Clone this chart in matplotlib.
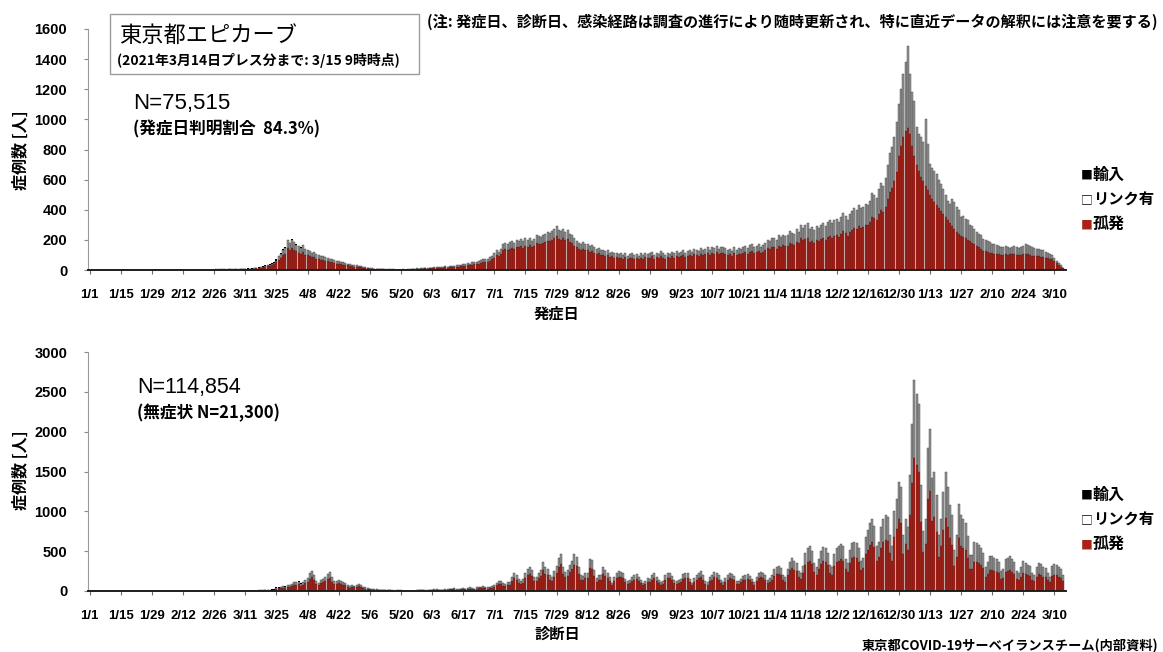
import numpy as np
import matplotlib
matplotlib.use("Agg")
import matplotlib.pyplot as plt
from matplotlib import font_manager as fm
from matplotlib.patches import Rectangle

# =========================================================
# FONTS
# =========================================================

JP = ["Noto Sans CJK JP", "DejaVu Sans"]
LAT = "Liberation Sans"
try:
    fm.findfont(fm.FontProperties(family="Liberation Sans Narrow"), fallback_to_default=False)
    NARROW = "Liberation Sans Narrow"
except Exception:
    NARROW = "Liberation Sans"

# =========================================================
# DATA  (daily, 2020/1/1 .. 2021/3/14, 14 days per line)
# =========================================================

tick_labels = ["1/1", "1/15", "1/29", "2/12", "2/26", "3/11", "3/25", "4/8",
               "4/22", "5/6", "5/20", "6/3", "6/17", "7/1", "7/15", "7/29",
               "8/12", "8/26", "9/9", "9/23", "10/7", "10/21", "11/4", "11/18",
               "12/2", "12/16", "12/30", "1/13", "1/27", "2/10", "2/24", "3/10"]

# onset date: total bar height
onset_total = [
    0, 0, 0, 0, 0, 0, 0, 0, 0, 0, 0, 0, 0, 0,
    0, 0, 0, 0, 0, 0, 0, 0, 0, 1, 1, 0, 1, 1,
    0, 1, 0, 1, 1, 0, 1, 0, 1, 1, 0, 1, 1, 1,
    2, 1, 3, 3, 3, 2, 3, 3, 2, 2, 2, 3, 2, 2,
    3, 4, 4, 4, 4, 5, 4, 5, 5, 5, 5, 5, 6, 8,
    8, 10, 9, 12, 14, 15, 18, 20, 25, 30, 35, 38, 45, 55,
    70, 95, 110, 140, 150, 200, 180, 205, 185, 170, 160, 150, 165, 140,
    135, 125, 115, 120, 105, 100, 95, 90, 85, 80, 75, 70, 65, 60,
    58, 55, 50, 45, 42, 40, 35, 33, 30, 28, 24, 20, 18, 15,
    12, 10, 9, 8, 7, 6, 6, 5, 5, 4, 4, 4, 3, 3,
    3, 4, 3, 5, 4, 6, 8, 10, 9, 12, 10, 14, 13, 16,
    15, 18, 20, 17, 22, 20, 24, 22, 25, 28, 26, 30, 32, 35,
    38, 40, 45, 42, 50, 55, 52, 58, 65, 70, 75, 72, 85, 95,
    110, 130, 120, 140, 175, 180, 170, 185, 190, 180, 200, 195, 205, 190,
    210, 200, 215, 195, 205, 230, 225, 220, 235, 240, 250, 245, 260, 275,
    290, 265, 260, 270, 255, 265, 240, 230, 210, 195, 180, 175, 185, 170,
    175, 160, 165, 150, 140, 145, 130, 135, 125, 130, 115, 120, 110, 115,
    105, 110, 100, 115, 95, 105, 110, 100, 105, 95, 110, 100, 115, 105,
    110, 120, 100, 115, 105, 125, 110, 100, 115, 105, 120, 110, 125, 115,
    120, 135, 115, 125, 130, 120, 140, 135, 125, 145, 130, 140, 150, 135,
    150, 145, 160, 140, 155, 150, 145, 130, 140, 125, 150, 135, 145, 140,
    150, 160, 145, 165, 170, 155, 160, 175, 150, 165, 180, 200, 190, 210,
    215, 200, 230, 220, 235, 225, 230, 260, 245, 240, 270, 255, 300, 280,
    300, 315, 275, 285, 265, 290, 280, 300, 310, 290, 320, 330, 310, 330,
    340, 320, 350, 380, 360, 330, 370, 390, 410, 400, 430, 410, 420, 440,
    430, 460, 510, 500, 480, 540, 580, 560, 610, 700, 780, 815, 880, 980,
    1100, 1200, 1300, 1380, 1490, 1300, 1180, 1120, 950, 900, 880, 850, 1004, 838,
    704, 680, 660, 638, 600, 571, 540, 500, 460, 438, 471, 450, 420, 400,
    349, 360, 340, 330, 300, 290, 271, 255, 240, 230, 204, 200, 190, 185,
    175, 171, 165, 160, 155, 150, 160, 150, 149, 155, 160, 150, 145, 150,
    160, 171, 165, 160, 150, 145, 138, 140, 135, 130, 120, 110, 104, 100,
    80, 60, 45, 30, 15,
]

# onset date: isolated cases (孤発)
onset_iso = [
    0, 0, 0, 0, 0, 0, 0, 0, 0, 0, 0, 0, 0, 0,
    0, 0, 0, 0, 0, 0, 0, 0, 0, 0, 1, 0, 0, 1,
    0, 1, 0, 0, 1, 0, 1, 0, 0, 1, 0, 1, 0, 1,
    1, 1, 2, 1, 2, 1, 1, 2, 1, 2, 1, 2, 2, 1,
    2, 2, 3, 2, 3, 3, 2, 4, 3, 3, 4, 3, 4, 5,
    5, 6, 6, 8, 9, 10, 12, 13, 17, 20, 24, 26, 31, 38,
    50, 68, 80, 102, 108, 145, 130, 148, 134, 123, 116, 108, 120, 102,
    98, 91, 84, 87, 76, 72, 69, 65, 61, 58, 54, 50, 47, 43,
    41, 39, 35, 32, 30, 28, 25, 23, 21, 20, 17, 14, 13, 11,
    8, 7, 6, 5, 5, 4, 4, 3, 3, 3, 3, 3, 2, 2,
    2, 3, 2, 3, 3, 4, 5, 7, 6, 8, 7, 10, 9, 11,
    10, 12, 14, 12, 15, 14, 17, 15, 17, 20, 18, 21, 22, 24,
    27, 28, 32, 30, 36, 40, 37, 42, 47, 51, 55, 52, 62, 70,
    82, 98, 90, 106, 134, 138, 130, 142, 146, 138, 154, 150, 158, 146,
    162, 154, 166, 150, 158, 178, 174, 170, 182, 186, 194, 190, 202, 214,
    226, 206, 202, 210, 198, 206, 186, 178, 162, 150, 138, 134, 142, 130,
    134, 122, 126, 114, 106, 110, 98, 102, 94, 98, 86, 90, 82, 86,
    78, 82, 74, 86, 70, 78, 82, 74, 78, 70, 82, 74, 86, 78,
    82, 90, 74, 86, 78, 94, 82, 74, 86, 78, 90, 82, 94, 86,
    90, 101, 86, 94, 97, 90, 105, 101, 94, 109, 97, 105, 112, 101,
    112, 109, 120, 105, 116, 112, 109, 97, 105, 94, 112, 101, 109, 105,
    110, 117, 106, 120, 124, 113, 117, 128, 110, 120, 131, 146, 139, 153,
    150, 140, 160, 154, 164, 157, 161, 182, 171, 168, 189, 178, 210, 196,
    205, 215, 188, 195, 181, 198, 191, 205, 212, 198, 218, 225, 212, 225,
    230, 217, 237, 257, 243, 223, 250, 264, 277, 270, 290, 277, 284, 297,
    300, 320, 355, 348, 335, 375, 400, 388, 420, 470, 520, 545, 590, 650,
    760, 820, 880, 920, 940, 900, 820, 760, 700, 660, 620, 590, 560, 530,
    500, 470, 450, 430, 410, 390, 370, 349, 330, 310, 290, 270, 255, 240,
    225, 216, 210, 200, 190, 180, 171, 160, 150, 140, 127, 125, 120, 116,
    110, 108, 106, 104, 102, 100, 104, 100, 104, 104, 106, 102, 100, 102,
    104, 106, 104, 100, 96, 94, 90, 90, 88, 86, 82, 78, 76, 72,
    58, 44, 34, 22, 11,
]

# onset date: imported cases (輸入), from 2020/3/1
onset_imp_start = 60
onset_imp = [0, 1, 0, 1, 1, 0, 1, 1, 2, 1, 1, 2, 2, 3, 2, 3, 4, 3, 5, 6,
             5, 7, 8, 6, 7, 5, 6, 4, 5, 3, 4, 3, 2, 2, 1, 1, 1, 0, 1, 0]

# diagnosis date: total bar height
diag_total = [
    0, 0, 0, 0, 0, 0, 0, 0, 0, 0, 0, 0, 0, 0,
    0, 0, 0, 0, 0, 0, 0, 0, 0, 1, 0, 0, 0, 0,
    0, 1, 0, 1, 0, 0, 0, 0, 0, 0, 0, 0, 0, 0,
    0, 1, 2, 3, 1, 2, 1, 2, 1, 2, 3, 1, 2, 3,
    2, 3, 1, 2, 0, 1, 3, 2, 4, 5, 3, 1, 2, 3,
    5, 6, 6, 8, 7, 6, 10, 12, 12, 16, 15, 12, 20, 25,
    45, 50, 55, 65, 60, 75, 80, 90, 110, 115, 120, 95, 110, 140,
    160, 220, 250, 200, 130, 105, 140, 155, 180, 215, 240, 170, 120, 130,
    140, 130, 110, 105, 80, 60, 70, 65, 75, 85, 70, 55, 45, 40,
    30, 25, 22, 20, 12, 12, 15, 14, 12, 10, 8, 6, 7, 8,
    8, 6, 5, 4, 3, 4, 6, 10, 12, 15, 12, 8, 10, 15,
    18, 20, 22, 18, 14, 15, 20, 25, 28, 30, 35, 25, 20, 30,
    35, 30, 40, 45, 35, 30, 45, 50, 55, 60, 55, 45, 50, 60,
    70, 100, 130, 120, 95, 90, 110, 115, 180, 230, 200, 150, 120, 150,
    220, 280, 300, 260, 170, 180, 230, 260, 370, 300, 280, 200, 180, 250,
    310, 420, 470, 300, 240, 260, 330, 380, 460, 430, 300, 200, 190, 220,
    230, 400, 390, 260, 160, 200, 200, 300, 260, 230, 180, 100, 170, 230,
    250, 240, 220, 150, 120, 140, 170, 200, 210, 180, 140, 100, 120, 160,
    150, 200, 220, 180, 140, 110, 130, 200, 220, 230, 190, 140, 130, 140,
    150, 210, 230, 220, 150, 100, 160, 200, 230, 250, 200, 130, 110, 170,
    200, 240, 230, 200, 140, 110, 160, 200, 220, 210, 190, 120, 120, 150,
    190, 200, 210, 190, 150, 110, 180, 230, 240, 220, 200, 140, 160, 200,
    270, 300, 310, 290, 200, 170, 280, 370, 420, 380, 350, 250, 220, 320,
    480, 540, 560, 500, 350, 300, 400, 500, 550, 540, 480, 330, 300, 470,
    540, 560, 590, 560, 400, 350, 510, 600, 620, 600, 540, 380, 420, 680,
    760, 850, 900, 820, 560, 620, 800, 900, 950, 930, 700, 560, 1000, 1150,
    1370, 1300, 700, 900, 800, 1450, 2090, 2650, 2470, 2350, 1330, 750, 900, 1795,
    2030, 1414, 1500, 1201, 700, 900, 1245, 1499, 1300, 1076, 950, 520, 700, 1097,
    948, 900, 850, 695, 450, 450, 610, 600, 580, 540, 483, 300, 360, 440,
    440, 420, 400, 370, 250, 280, 398, 420, 440, 400, 360, 250, 220, 300,
    380, 356, 330, 310, 220, 200, 300, 356, 340, 300, 290, 220, 180, 314,
    340, 330, 300, 280, 200,
]

# diagnosis date: isolated cases (孤発)
diag_iso = [
    0, 0, 0, 0, 0, 0, 0, 0, 0, 0, 0, 0, 0, 0,
    0, 0, 0, 0, 0, 0, 0, 0, 0, 0, 0, 0, 0, 0,
    0, 0, 0, 0, 0, 0, 0, 0, 0, 0, 0, 0, 0, 0,
    0, 1, 1, 2, 1, 1, 1, 1, 1, 1, 2, 1, 1, 2,
    1, 2, 1, 1, 0, 1, 2, 1, 2, 3, 2, 1, 1, 2,
    3, 4, 3, 4, 3, 3, 5, 6, 5, 7, 6, 5, 9, 11,
    28, 32, 35, 42, 40, 50, 54, 62, 76, 80, 84, 66, 77, 98,
    112, 154, 172, 140, 90, 72, 98, 108, 126, 150, 168, 118, 84, 90,
    96, 90, 76, 72, 55, 41, 48, 45, 52, 58, 48, 38, 31, 27,
    20, 17, 15, 13, 8, 8, 10, 9, 8, 7, 5, 4, 5, 5,
    5, 4, 3, 3, 2, 3, 4, 6, 8, 10, 8, 5, 6, 10,
    12, 13, 15, 12, 9, 10, 13, 17, 19, 20, 24, 17, 13, 20,
    24, 20, 27, 31, 24, 20, 31, 34, 38, 41, 38, 31, 34, 41,
    48, 70, 92, 85, 67, 63, 77, 81, 128, 164, 142, 106, 85, 106,
    158, 202, 216, 187, 122, 130, 166, 187, 266, 216, 202, 144, 130, 180,
    223, 302, 338, 216, 173, 187, 238, 274, 331, 310, 216, 144, 137, 158,
    166, 288, 281, 187, 115, 144, 144, 216, 187, 166, 130, 72, 122, 166,
    180, 173, 158, 108, 86, 101, 122, 144, 151, 130, 101, 72, 86, 115,
    108, 144, 158, 130, 101, 79, 94, 144, 158, 166, 137, 101, 94, 101,
    108, 151, 166, 158, 108, 72, 115, 144, 166, 180, 144, 94, 79, 122,
    144, 173, 166, 144, 101, 79, 115, 144, 158, 151, 137, 86, 86, 108,
    137, 144, 151, 137, 108, 79, 130, 166, 173, 158, 144, 101, 115, 144,
    189, 210, 217, 203, 140, 119, 196, 259, 294, 266, 245, 175, 154, 224,
    326, 367, 381, 340, 238, 204, 272, 340, 374, 367, 326, 224, 204, 320,
    367, 381, 401, 381, 272, 238, 347, 408, 422, 408, 367, 258, 286, 462,
    517, 578, 612, 558, 381, 422, 544, 612, 646, 632, 476, 381, 680, 782,
    900, 850, 460, 590, 520, 950, 1350, 1670, 1580, 1500, 860, 490, 590, 1150,
    1250, 880, 930, 740, 430, 560, 770, 920, 800, 660, 580, 320, 430, 670,
    570, 540, 510, 420, 270, 270, 366, 360, 348, 324, 290, 180, 216, 264,
    260, 250, 240, 220, 150, 168, 240, 250, 264, 240, 216, 150, 132, 180,
    228, 214, 198, 186, 132, 120, 180, 214, 204, 180, 174, 132, 108, 188,
    204, 198, 180, 168, 120,
]

# diagnosis date: imported cases (輸入), from 2020/3/1
diag_imp_start = 60
diag_imp = [0, 0, 1, 0, 1, 1, 0, 1, 1, 1, 2, 1, 2, 3, 2, 1, 3, 4, 5, 6,
            5, 4, 6, 8, 7, 9, 8, 6, 7, 5, 4, 5, 3, 3, 2, 1, 2, 1, 1, 0]

# =========================================================
# STYLE
# =========================================================

RED = "#a9221a"
RED_EDGE = "#5e1510"
GREY = "#959595"
GREY_EDGE = "#3c3c3c"

W, H = 1163, 652


def fx(x):
    return x / W


def fy(y):
    return 1 - y / H


def draw_epicurve(ax, total, iso, imp_start, imp, ymax, ystep):

    total = np.array(total, dtype=float)
    iso = np.array(iso, dtype=float)

    imp_full = np.zeros(len(total))
    imp_full[imp_start:imp_start + len(imp)] = imp

    link = np.clip(total - iso - imp_full, 0, None)

    x = np.arange(len(total))

    ax.bar(x, iso, width=0.9, color=RED, edgecolor=RED_EDGE, linewidth=0.3)
    ax.bar(x, link, bottom=iso, width=0.9, color=GREY,
           edgecolor=GREY_EDGE, linewidth=0.3)
    ax.bar(x, imp_full, bottom=iso + link, width=0.9, color="black",
           linewidth=0)

    ax.set_xlim(-0.8, len(total) + 0.2)
    ax.set_ylim(0, ymax)

    ax.set_xticks(np.arange(0, len(total), 14)[:len(tick_labels)])
    ax.set_xticklabels(tick_labels, fontfamily=NARROW, fontsize=9.5,
                       fontweight="bold")

    ax.set_yticks(np.arange(0, ymax + 1, ystep))
    ax.set_yticklabels([str(v) for v in range(0, ymax + 1, ystep)],
                       fontfamily=LAT, fontsize=10.5, fontweight="bold")

    for side in ["top", "right"]:
        ax.spines[side].set_visible(False)

    ax.spines["left"].set_color("#9a9a9a")
    ax.spines["left"].set_linewidth(0.8)
    ax.spines["bottom"].set_color("#1e1e1e")
    ax.spines["bottom"].set_linewidth(1.4)

    ax.tick_params(axis="y", length=3, width=0.8, color="#8a8a8a", pad=12)
    ax.tick_params(axis="x", length=3, width=0.8, color="#6a6a6a", pad=11)


# =========================================================
# FIGURE
# =========================================================

fig = plt.figure(figsize=(W / 100, H / 100), dpi=100)

ax1 = fig.add_axes([fx(88), fy(270), fx(1066) - fx(88), (270 - 29) / H])
ax2 = fig.add_axes([fx(88), fy(591), fx(1066) - fx(88), (591 - 352) / H])

draw_epicurve(ax1, onset_total, onset_iso, onset_imp_start, onset_imp, 1600, 200)
draw_epicurve(ax2, diag_total, diag_iso, diag_imp_start, diag_imp, 3000, 500)

# title box
fig.patches.append(
    Rectangle((fx(110), fy(74)), fx(419) - fx(110), (74 - 14) / H,
              transform=fig.transFigure, fill=False,
              edgecolor="#9c9c9c", linewidth=1.0)
)

fig.text(fx(119), fy(35), "東京都エピカーブ", family=JP, fontsize=16,
         va="center", ha="left")
fig.text(fx(117), fy(61), "(2021年3月14日プレス分まで: 3/15 9時時点)",
         family=JP, fontsize=10, fontweight="bold", va="center", ha="left")

fig.text(fx(427), fy(22),
         "(注: 発症日、診断日、感染経路は調査の進行により随時更新され、特に直近データの解釈には注意を要する)",
         family=JP, fontsize=10.9, fontweight="bold", va="center", ha="left")

# annotations, top
fig.text(fx(133), fy(103), "N=75,515", family=LAT, fontsize=16,
         va="center", ha="left")
fig.text(fx(133), fy(129), "(発症日判明割合  84.3%)", family=JP,
         fontsize=12, fontweight="bold", va="center", ha="left")

# annotations, bottom
fig.text(fx(137), fy(388), "N=114,854", family=LAT, fontsize=15.5,
         va="center", ha="left")
fig.text(fx(137), fy(413), "(無症状 N=21,300)", family=JP,
         fontsize=12, fontweight="bold", va="center", ha="left")

# axis titles
for yc in [150, 470]:
    fig.text(fx(21), fy(yc), "症例数 [人]", family=JP, fontsize=11.5,
             fontweight="bold", rotation=90, va="center", ha="center")

fig.text(fx(557), fy(314), "発症日", family=JP, fontsize=11,
         fontweight="bold", va="center", ha="center")
fig.text(fx(557), fy(634), "診断日", family=JP, fontsize=11,
         fontweight="bold", va="center", ha="center")

# legends
for y0 in [175, 495]:
    fig.text(fx(1081), fy(y0), "■", family=JP, fontsize=8.5, color="black",
             va="center", ha="left")
    fig.text(fx(1093), fy(y0), "輸入", family=JP, fontsize=11.5,
             fontweight="bold", va="center", ha="left")
    fig.text(fx(1081), fy(y0 + 25), "□", family=JP, fontsize=8.5, color="black",
             va="center", ha="left")
    fig.text(fx(1093), fy(y0 + 25), "リンク有", family=JP, fontsize=11,
             fontweight="bold", va="center", ha="left")
    fig.text(fx(1081), fy(y0 + 50), "■", family=JP, fontsize=8.5, color=RED,
             va="center", ha="left")
    fig.text(fx(1093), fy(y0 + 50), "孤発", family=JP, fontsize=11.5,
             fontweight="bold", va="center", ha="left")

# footer
fig.text(fx(1158), fy(646), "東京都COVID-19サーベイランスチーム(内部資料)",
         family=JP, fontsize=9.5, fontweight="bold", va="center", ha="right")

fig.savefig("out.png", dpi=100)
